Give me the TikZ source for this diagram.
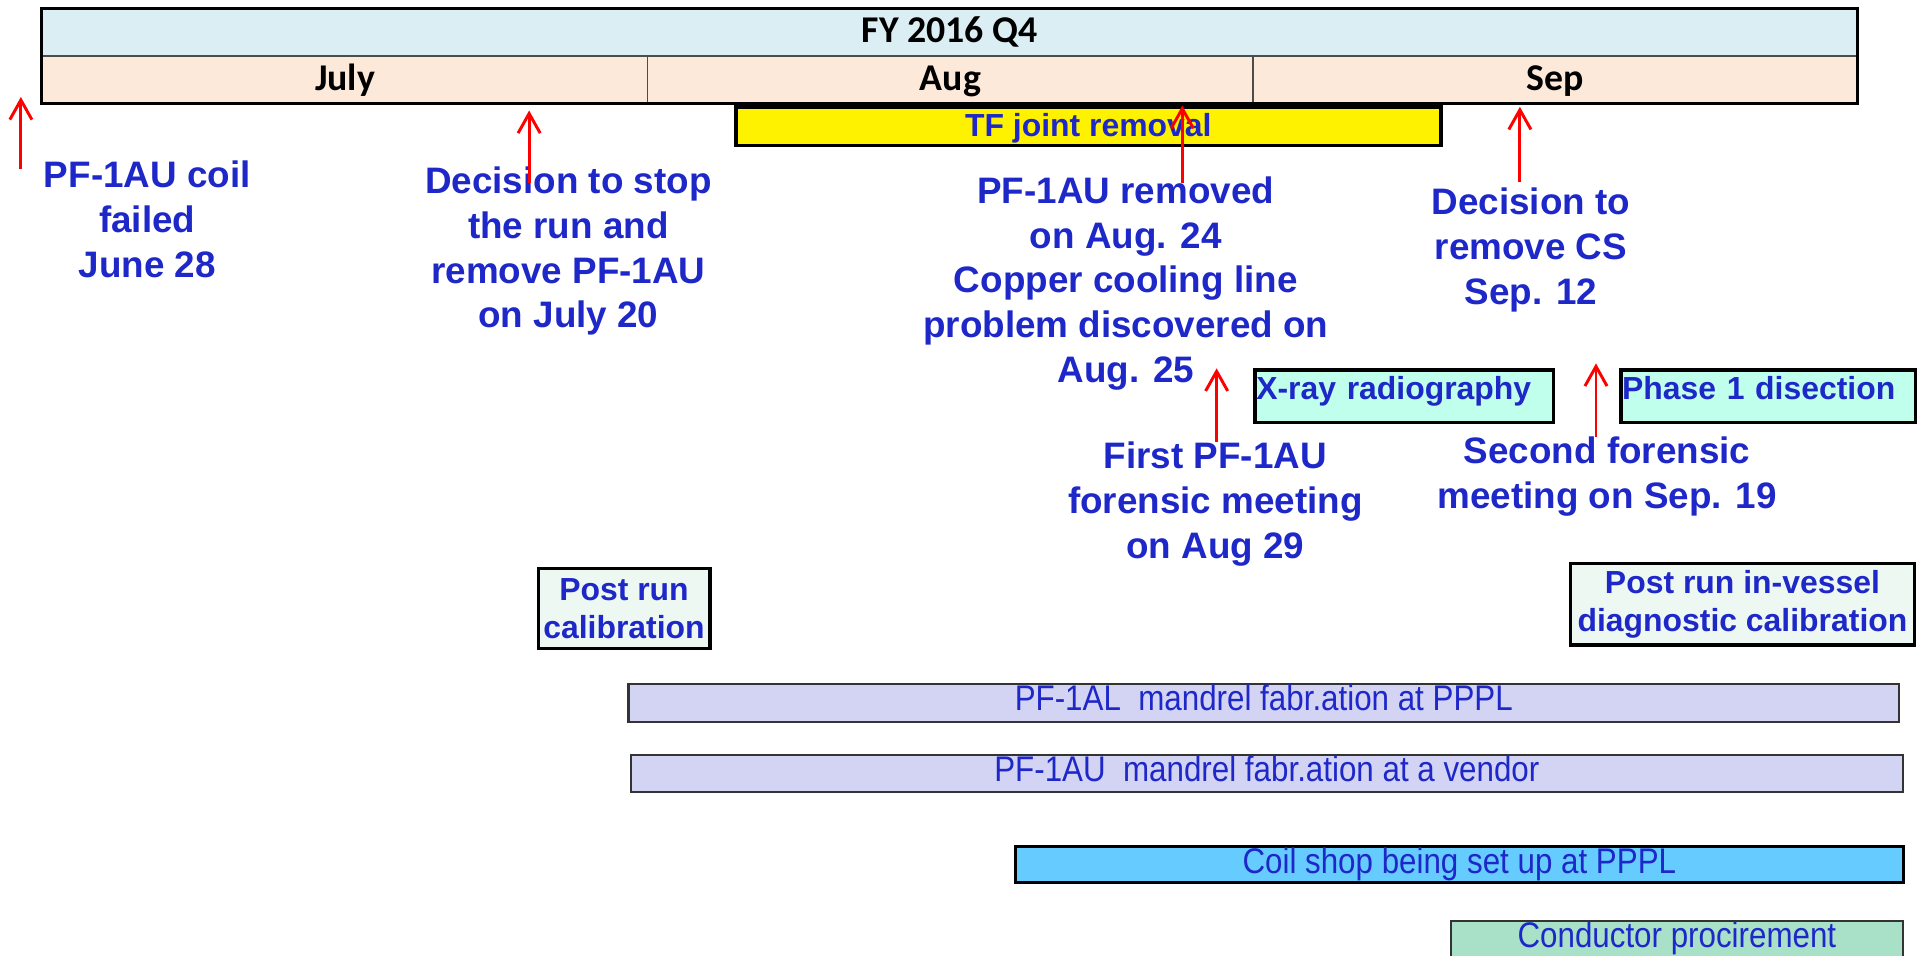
\documentclass[tikz,border=0pt]{standalone}
\usepackage{fontspec}
\setmainfont{Liberation Sans}
\newfontfamily\calfont{Carlito}
\newfontfamily\barfont[FakeStretch=0.88]{Liberation Sans}
\usetikzlibrary{arrows.meta}
\definecolor{evtblue}{RGB}{30,40,200}
\definecolor{hdrblue}{RGB}{218,238,243}
\definecolor{monthfill}{RGB}{253,233,217}
\definecolor{aquafill}{RGB}{192,255,236}
\definecolor{palefill}{RGB}{238,248,242}
\definecolor{lavfill}{RGB}{211,211,243}
\definecolor{skyfill}{RGB}{102,204,255}
\definecolor{mintfill}{RGB}{168,224,200}
\begin{document}
\begin{tikzpicture}[x=0.5pt,y=-0.5pt,
  hdrcell/.style={draw=black!70, line width=0.6pt, anchor=north west, inner sep=0pt,
    font=\calfont\bfseries\fontsize{15.4}{18}\selectfont, text=black},
  evt/.style={text=evtblue, font=\bfseries\fontsize{15}{18.25}\selectfont, align=center,
    inner sep=0pt, anchor=north},
  upar/.style={draw=red, line width=1.2pt, -{Straight Barb[length=8pt,width=9pt]}},
  taskbox/.style={draw=black, line width=1.3pt, anchor=north west, inner sep=0pt,
    text=evtblue, font=\bfseries\fontsize{13}{15.25}\selectfont},
  bar/.style={draw=black!80, line width=0.9pt, anchor=north west, inner sep=0pt,
    text=evtblue, font=\barfont\fontsize{14.5}{16}\selectfont},
]
\useasboundingbox (0,0) rectangle (1568,778);

% header
\node[hdrcell, fill=hdrblue, minimum width=739pt, minimum height=19pt,
  text height=13.5pt, text depth=5.5pt] (q4) at (34,7) {FY 2016 Q4};
\node[hdrcell, fill=monthfill, minimum width=246.5pt, minimum height=19pt,
  text height=13.9pt, text depth=5.1pt] (jul) at (34,45) {July};
\node[hdrcell, fill=monthfill, minimum width=246.5pt, minimum height=19pt,
  text height=13.9pt, text depth=5.1pt] (aug) at (527,45) {Aug};
\node[hdrcell, fill=monthfill, minimum width=246pt, minimum height=19pt,
  text height=13.9pt, text depth=5.1pt] (sep) at (1020,45) {Sep};
\draw[line width=1.4pt] (q4.north west) rectangle (sep.south east);

% task boxes
\node[taskbox, fill=yellow, line width=1.5pt, minimum width=287pt, minimum height=15.75pt,
  text height=12.25pt, text depth=3.5pt] (tf) at (598,85.5) {TF joint removal};
\node[taskbox, fill=aquafill, minimum width=121.5pt, minimum height=21.5pt,
  text width=120.5pt, align=left, inner xsep=0.5pt, text height=12pt, text depth=9.5pt]
  (xray) at (1021,300) {X-ray radiography};
\node[taskbox, fill=aquafill, minimum width=120pt, minimum height=21.5pt,
  text width=119pt, align=left, inner xsep=0.5pt, text height=12pt, text depth=9.5pt]
  (phase) at (1319,300) {Phase 1 disection};
\node[taskbox, fill=palefill, minimum width=70pt, minimum height=32.5pt, align=center]
  (prc) at (437,462) {Post run\\calibration};
\node[taskbox, fill=palefill, minimum width=140pt, minimum height=33pt, align=center]
  (prv) at (1278,458) {Post run in-vessel\\diagnostic calibration};

% bars
\node[bar, fill=lavfill, minimum width=517.5pt, minimum height=15.5pt,
  text height=11pt, text depth=4.5pt] (al) at (511,556) {PF-1AL\ \ mandrel fabr.ation at PPPL};
\node[bar, fill=lavfill, minimum width=518pt, minimum height=15pt,
  text height=11pt, text depth=4pt] (au) at (513,614) {PF-1AU\ \ mandrel fabr.ation at a vendor};
\node[bar, fill=skyfill, draw=black, line width=1.2pt, minimum width=361.5pt, minimum height=15pt,
  text height=11pt, text depth=4pt] (coil) at (826,688) {Coil shop being set up at PPPL};
\node[bar, fill=mintfill, minimum width=184pt, minimum height=16pt,
  text height=10.75pt, text depth=5.25pt] (cond) at (1181,749) {Conductor procirement};

% event texts
\node[evt] (ev1) at (120,130.5) {PF-1AU coil\\failed\\June 28};
\node[evt] (ev2) at (463,135.5) {Decision to stop\\the run and\\remove PF-1AU\\on July 20};
\node[evt] (ev3) at (917,143.5) {PF-1AU removed\\on Aug. 24\\Copper cooling line\\problem discovered on\\Aug. 25};
\node[evt] (ev4) at (1247,152.5) {Decision to\\remove CS\\Sep. 12};
\node[evt] (ev5) at (990,359.5) {First PF-1AU\\forensic meeting\\on Aug 29};
\node[evt] (ev6) at (1309,355.5) {Second forensic\\meeting on Sep. 19};

% arrows
\coordinate (a1t) at (17,138);   \coordinate (a1h) at (17,79);
\coordinate (a2t) at (431,149);  \coordinate (a2h) at (431,90);
\coordinate (a3t) at (963,149);  \coordinate (a3h) at (963,86);
\coordinate (a4t) at (1238,148); \coordinate (a4h) at (1238,87);
\coordinate (a5t) at (991,360);  \coordinate (a5h) at (991,300);
\coordinate (a6t) at (1300,356); \coordinate (a6h) at (1300,296);
\foreach \i in {1,...,6} {\draw[upar] (a\i t) -- (a\i h);}
\end{tikzpicture}
\end{document}
